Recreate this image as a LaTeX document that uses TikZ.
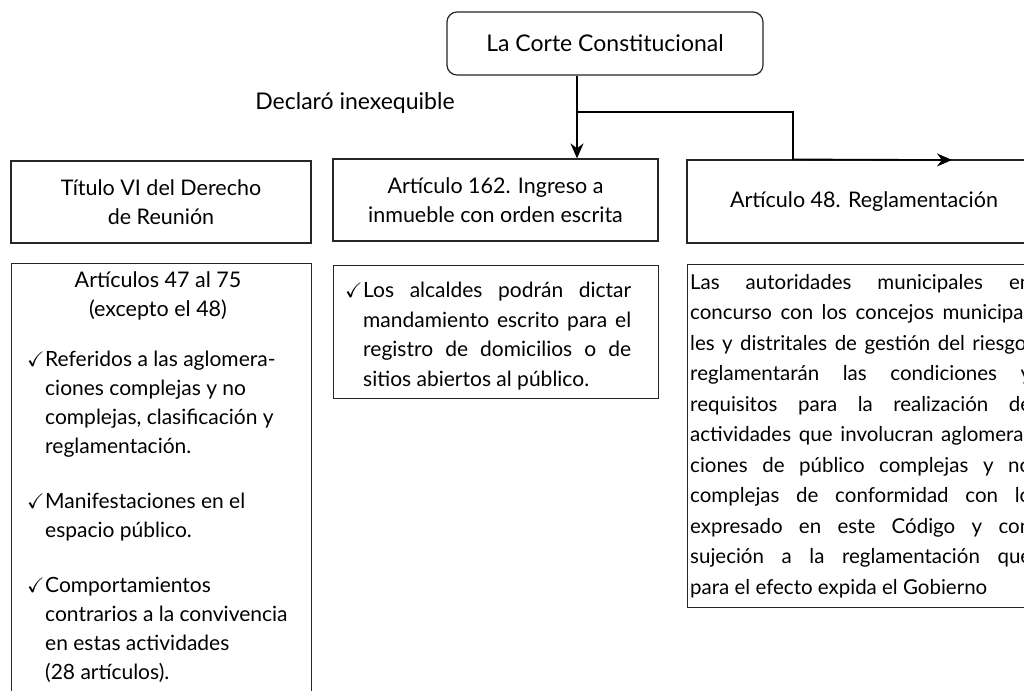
\documentclass[tikz,border=0pt]{standalone}
\usepackage{fontspec}
\setmainfont{Lato}
\usepackage{amssymb}
\usetikzlibrary{arrows.meta,calc}
\newcommand{\ck}{\makebox[18pt][l]{$\checkmark$}}
\newcommand{\ind}{\hspace*{18pt}}
\begin{document}
\begin{tikzpicture}[x=1pt,y=-1pt,
  box/.style={draw=black!85, line width=1.2pt, inner sep=0pt},
  conn/.style={line width=1.6pt, draw=black},
  arr/.style={conn, -{Stealth[length=15pt,width=13pt]}},
  txt/.style={font=\fontsize{21}{29.5}\selectfont, inner sep=0pt, text=black},
  big/.style={font=\fontsize{23}{28}\selectfont, inner sep=0pt, text=black},
  ttl/.style={font=\fontsize{21.5}{29.5}\selectfont, inner sep=0pt, text=black},
  rtx/.style={font=\fontsize{20.5}{30.5}\selectfont, inner sep=0pt, text=black},
]
\useasboundingbox (0,0) rectangle (1024,690);
\clip (0,0) rectangle (1024,690);
\fill[white] (0,0) rectangle (1024,690);

\node[box, big, rounded corners=10pt, minimum width=316pt, minimum height=63pt] (corte) at (605,43.5) {La Corte Constitucional};
\node[big] (decl) at (355,103) {Declaró inexequible};

\node[box, ttl, align=center, minimum width=300pt, minimum height=82pt] (t1) at (161,202) {Título VI del Derecho\\de Reunión};
\node[box, ttl, align=center, minimum width=325pt, minimum height=82pt] (t2) at (495.5,200) {Artículo 162. Ingreso a\\inmueble con orden escrita};
\node[box, ttl, minimum width=354pt, minimum height=83pt] (t3) at (864,201.5) {Artículo 48. Reglamentación};

\node[box, minimum width=300pt, minimum height=460pt, anchor=north west] (b1) at (11,263) {};
\node[box, minimum width=325pt, minimum height=133pt, anchor=north west] (b2) at (333,265) {};
\node[box, minimum width=354pt, minimum height=343pt, anchor=north west] (b3) at (687,264) {};

\node[ttl, align=center, font=\fontsize{21.5}{28.5}\selectfont] (b1h) at (158,296) {Artículos 47 al 75\\(excepto el 48)};
\node[txt, align=left, anchor=north west, font=\fontsize{21}{29}\selectfont] (b1l) at (27,351) {%
\ck Referidos a las aglomera-\\
\ind ciones complejas y no\\
\ind complejas, clasificación y\\
\ind reglamentación.\\[26pt]
\ck Manifestaciones en el\\
\ind espacio público.\\[26pt]
\ck Comportamientos\\
\ind contrarios a la convivencia\\
\ind en estas actividades\\
\ind (28 artículos).};

\node[txt, align=left, anchor=north west] (b2t) at (345,282) {%
\ck\makebox[268pt][s]{Los alcaldes podrán dictar}\\
\ind\makebox[268pt][s]{mandamiento escrito para el}\\
\ind\makebox[268pt][s]{registro de domicilios o de}\\
\ind sitios abiertos al público.};

\node[rtx, align=left, anchor=north west] (b3t) at (690,274) {%
\makebox[341pt][s]{Las autoridades municipales en}\\
\makebox[341pt][s]{concurso con los concejos municipa-}\\
\makebox[341pt][s]{les y distritales de gestión del riesgo,}\\
\makebox[341pt][s]{reglamentarán las condiciones y}\\
\makebox[341pt][s]{requisitos para la realización de}\\
\makebox[341pt][s]{actividades que involucran aglomera-}\\
\makebox[341pt][s]{ciones de público complejas y no}\\
\makebox[341pt][s]{complejas de conformidad con lo}\\
\makebox[341pt][s]{expresado en este Código y con}\\
\makebox[341pt][s]{sujeción a la reglamentación que}\\
para el efecto expida el Gobierno};

\coordinate (j) at (577,112);
\coordinate (k) at (793,112);
\coordinate (tip) at (952,160);
\draw[arr] (j |- corte.south) -- (j |- t2.north);
\draw[arr] (j) -- (k) -- (k |- t3.north) -- (tip);
\end{tikzpicture}
\end{document}
